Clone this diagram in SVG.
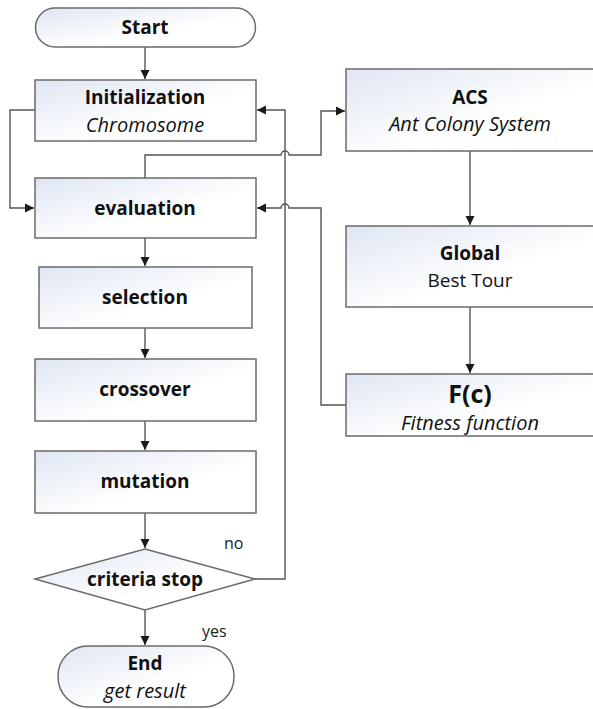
<svg xmlns="http://www.w3.org/2000/svg" width="593" height="709" viewBox="0 0 593 709">
<defs>
<linearGradient id="g" x1="0" y1="0" x2="1" y2="1">
<stop offset="0" stop-color="#dfe6f2"/>
<stop offset="0.6" stop-color="#ffffff"/>
</linearGradient>
<marker id="arr" markerWidth="10" markerHeight="10" refX="9" refY="5" orient="auto" markerUnits="userSpaceOnUse">
<path d="M0,0.5 L9,5 L0,9.5 Z" fill="#1a1a1a"/>
</marker>
<style>
.n{fill:url(#g);stroke:#6b6b6b;stroke-width:1.5}
.c{fill:none;stroke:#555;stroke-width:1.4}
.t{font-family:"Open Sans","Noto Sans",sans-serif;fill:#111;text-anchor:middle}
.b{font-weight:bold;font-size:19px}
.i{font-style:italic;font-size:20px}
.r{font-size:19px}
.s{font-family:"Open Sans","Noto Sans",sans-serif;fill:#222;font-size:16px}
</style>
</defs>
<rect width="593" height="709" fill="#fff"/>
<g id="connectors">
<path class="c" d="M145,47 V79" marker-end="url(#arr)"/>
<path class="c" d="M145,238 V266" marker-end="url(#arr)"/>
<path class="c" d="M145,328 V358" marker-end="url(#arr)"/>
<path class="c" d="M145,421 V450" marker-end="url(#arr)"/>
<path class="c" d="M145,513 V548" marker-end="url(#arr)"/>
<path class="c" d="M145,610 V645" marker-end="url(#arr)"/>
<path class="c" d="M35,110 H10 V208 H34" marker-end="url(#arr)"/>
<path class="c" d="M255,579 H285 V110 H257" marker-end="url(#arr)"/>
<path class="c" d="M145,178 V155 H281 A4,4 0 0 1 289,155 H321 V111 H345" marker-end="url(#arr)"/>
<path class="c" d="M346,405 H321 V208 H289 A4,4 0 0 0 281,208 H257" marker-end="url(#arr)"/>
<path class="c" d="M470,151 V225" marker-end="url(#arr)"/>
<path class="c" d="M470,307 V373" marker-end="url(#arr)"/>
</g>
<g id="start">
<rect class="n" x="35.5" y="8" width="220" height="39" rx="19.5"/>
<text class="t b" x="145" y="34">Start</text>
</g>
<g id="init">
<rect class="n" x="35" y="80" width="221" height="61"/>
<text class="t b" x="145" y="104">Initialization</text>
<text class="t i" x="145" y="132">Chromosome</text>
</g>
<g id="evaluation">
<rect class="n" x="35" y="178" width="221" height="60"/>
<text class="t b" x="145" y="215">evaluation</text>
</g>
<g id="selection">
<rect class="n" x="39" y="267" width="213" height="61"/>
<text class="t b" x="145" y="304">selection</text>
</g>
<g id="crossover">
<rect class="n" x="35" y="359" width="221" height="62"/>
<text class="t b" x="145" y="396">crossover</text>
</g>
<g id="mutation">
<rect class="n" x="35" y="451" width="221" height="62"/>
<text class="t b" x="145" y="488">mutation</text>
</g>
<g id="criteria">
<path class="n" d="M145,549 L255,579 L145,610 L35,579 Z"/>
<text class="t b" x="145" y="586">criteria stop</text>
<text class="s" x="224" y="549">no</text>
<text class="s" x="202" y="637">yes</text>
</g>
<g id="end">
<rect class="n" x="58" y="646" width="176" height="61" rx="30"/>
<text class="t b" x="145" y="670">End</text>
<text class="t i" x="145" y="698">get result</text>
</g>
<g id="acs">
<rect class="n" x="346" y="69" width="248" height="82"/>
<text class="t b" x="470" y="104">ACS</text>
<text class="t i" x="470" y="131">Ant Colony System</text>
</g>
<g id="global">
<rect class="n" x="346" y="226" width="248" height="81"/>
<text class="t b" x="470" y="260">Global</text>
<text class="t r" x="470" y="287">Best Tour</text>
</g>
<g id="fitness">
<rect class="n" x="346" y="374" width="248" height="62"/>
<text class="t" x="470" y="403" style="font-weight:bold;font-size:25px">F(c)</text>
<text class="t i" x="470" y="430">Fitness function</text>
</g>
</svg>
